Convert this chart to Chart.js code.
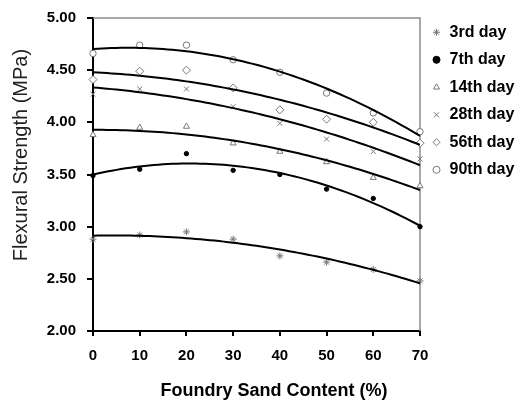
<!DOCTYPE html>
<html>
<head>
<meta charset="utf-8">
<script src="https://cdn.jsdelivr.net/npm/chart.js@4.4.1/dist/chart.umd.min.js"></script>
<style>
html, body { margin: 0; padding: 0; background: #fff; }
#wrap { width: 518px; height: 403px; }
</style>
</head>
<body>
<div id="wrap"><canvas id="myChart"></canvas></div>
<script>
const sandContent = [0, 10, 20, 30, 40, 50, 60, 70];
const day3 = [2.88, 2.92, 2.95, 2.88, 2.72, 2.66, 2.59, 2.48];
const day7 = [3.49, 3.55, 3.70, 3.54, 3.50, 3.36, 3.27, 3.00];
const day14 = [3.88, 3.95, 3.96, 3.80, 3.72, 3.62, 3.47, 3.39];
const day28 = [4.27, 4.32, 4.32, 4.15, 3.99, 3.84, 3.72, 3.65];
const day56 = [4.41, 4.49, 4.50, 4.33, 4.12, 4.03, 4.00, 3.80];
const day90 = [4.66, 4.74, 4.74, 4.60, 4.48, 4.28, 4.09, 3.91];
const seriesNames = ['3rd day', '7th day', '14th day', '28th day', '56th day', '90th day'];

const allSeries = [day3, day7, day14, day28, day56, day90];
const markers = [
    { style: 'star', radius: 3.5, fill: '#777', stroke: '#777' },
    { style: 'circle', radius: 2.2, fill: '#000', stroke: '#000' },
    { style: 'triangle', radius: 3.5, fill: '#fff', stroke: '#777' },
    { style: 'crossRot', radius: 3.5, fill: '#777', stroke: '#777' },
    { style: 'rectRot', radius: 4, fill: '#fff', stroke: '#777' },
    { style: 'circle', radius: 3.2, fill: '#fff', stroke: '#777' }
];

// 2nd order polynomial trendline (least squares), like the spreadsheet one
function polyFit(xs, ys) {
    let s = [0, 0, 0, 0, 0], t = [0, 0, 0];
    xs.forEach((x, i) => {
        for (let k = 0; k < 5; k++) s[k] += Math.pow(x, k);
        for (let k = 0; k < 3; k++) t[k] += ys[i] * Math.pow(x, k);
    });
    const m = [[s[0], s[1], s[2], t[0]], [s[1], s[2], s[3], t[1]], [s[2], s[3], s[4], t[2]]];
    for (let i = 0; i < 3; i++) {
        for (let j = i + 1; j < 3; j++) {
            const f = m[j][i] / m[i][i];
            for (let k = i; k < 4; k++) m[j][k] -= f * m[i][k];
        }
    }
    const c = [0, 0, 0];
    for (let i = 2; i >= 0; i--) {
        let v = m[i][3];
        for (let k = i + 1; k < 3; k++) v -= m[i][k] * c[k];
        c[i] = v / m[i][i];
    }
    return x => c[0] + c[1] * x + c[2] * x * x;
}

const datasets = [];
allSeries.forEach((vals, i) => {
    datasets.push({
        label: seriesNames[i],
        data: sandContent.map((x, j) => ({ x: x, y: vals[j] })),
        pointStyle: markers[i].style,
        pointRadius: markers[i].radius,
        backgroundColor: markers[i].fill,
        borderColor: markers[i].stroke,
        borderWidth: 1,
        showLine: false,
        clip: false,
        order: 2
    });
});
allSeries.forEach((vals, i) => {
    const fit = polyFit(sandContent, vals);
    const pts = [];
    for (let x = 0; x <= 70; x++) pts.push({ x: x, y: fit(x) });
    datasets.push({
        label: 'trend ' + seriesNames[i],
        data: pts,
        showLine: true,
        pointRadius: 0,
        borderColor: '#000',
        borderWidth: 2,
        order: 1
    });
});

const frame = {
    id: 'frame',
    beforeDatasetsDraw(chart) {
        const { ctx, chartArea: a } = chart;
        ctx.save();
        ctx.strokeStyle = '#8c8c8c';
        ctx.lineWidth = 1.5;
        ctx.beginPath();
        ctx.moveTo(a.left, a.top);
        ctx.lineTo(a.right, a.top);
        ctx.lineTo(a.right, a.bottom);
        ctx.stroke();
        ctx.restore();
    }
};

Chart.defaults.font.family = "'Liberation Sans', Arial, sans-serif";
Chart.defaults.color = '#000';

new Chart(document.getElementById('myChart'), {
    type: 'scatter',
    data: { datasets: datasets },
    plugins: [frame],
    options: {
        responsive: true,
        maintainAspectRatio: false,
        animation: false,
        devicePixelRatio: 1,
        layout: { padding: { top: 12.8, right: 0, bottom: 0, left: 0 } },
        plugins: {
            tooltip: { enabled: false },
            legend: {
                position: 'right',
                align: 'start',
                maxWidth: 98,
                labels: {
                    usePointStyle: true,
                    boxWidth: 10,
                    boxHeight: 5,
                    padding: 11.5,
                    color: '#000',
                    font: { size: 16, weight: 'bold' },
                    filter: item => item.datasetIndex < 6
                }
            }
        },
        scales: {
            x: {
                type: 'linear',
                min: 0,
                max: 70,
                afterFit: s => { s.height = 72; },
                ticks: { stepSize: 10, padding: 11, font: { size: 15, weight: 'bold' } },
                grid: { drawOnChartArea: false, tickLength: 5, color: '#000', lineWidth: 2 },
                border: { color: '#000', width: 2 },
                title: {
                    display: true,
                    text: '       Foundry Sand Content (%)',
                    font: { size: 18, weight: 'bold' },
                    padding: { top: 0, bottom: 1 }
                }
            },
            y: {
                min: 2,
                max: 5,
                afterFit: s => { s.width = 93; s.paddingTop = 18; },
                ticks: {
                    stepSize: 0.5,
                    padding: 11,
                    font: { size: 15, weight: 'bold' },
                    callback: v => v.toFixed(2)
                },
                grid: { drawOnChartArea: false, tickLength: 6, color: '#000', lineWidth: 2 },
                border: { color: '#000', width: 2 },
                title: {
                    display: true,
                    text: '       Flexural Strength (MPa)',
                    color: '#222',
                    font: { size: 20 },
                    padding: { top: 9, bottom: 0 }
                }
            }
        }
    }
});
</script>
</body>
</html>
